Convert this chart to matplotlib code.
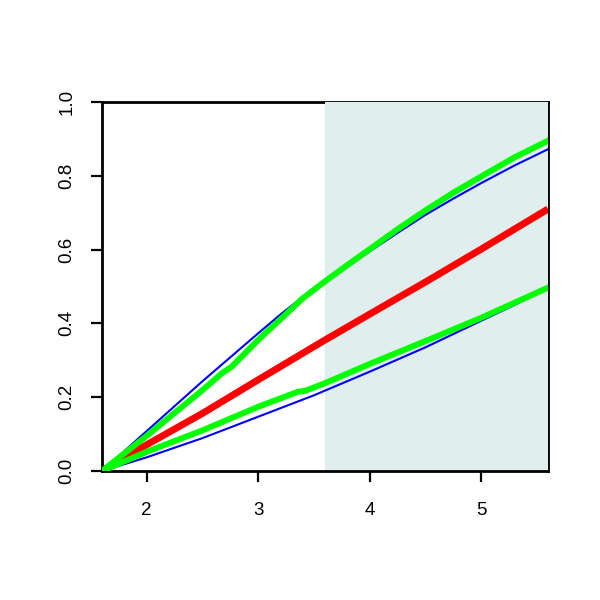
import numpy as np
import matplotlib.pyplot as plt

plt.rcParams['font.family'] = ['Liberation Sans', 'DejaVu Sans']

# blue band (smooth bounds)
x_bup = [1.6, 2.0, 2.5, 3.0, 3.2, 3.4, 3.6, 3.8, 4.0, 4.25, 4.5, 4.75, 5.0, 5.3, 5.6]
upper_blue = [0, 0.108, 0.243, 0.373, 0.424, 0.472, 0.512, 0.553, 0.595, 0.645,
              0.694, 0.738, 0.780, 0.828, 0.872]
x_blo = [1.6, 2.0, 2.5, 3.0, 3.25, 3.5, 3.75, 4.0, 4.25, 4.5, 4.75, 5.0, 5.3, 5.6]
lower_blue = [0, 0.037, 0.089, 0.147, 0.176, 0.205, 0.237, 0.269, 0.302, 0.335,
              0.371, 0.407, 0.450, 0.495]

# red centre line
x_red = [1.6, 2.0, 2.5, 3.0, 3.6, 4.0, 4.5, 5.0, 5.6]
y_red = [0, 0.071, 0.156, 0.247, 0.355, 0.425, 0.512, 0.601, 0.710]

# green bounds
x_gup = [1.6, 2.0, 2.5, 2.68, 2.76, 3.0, 3.2, 3.4, 3.6, 3.8, 4.0, 4.25, 4.5, 4.75,
         5.0, 5.3, 5.6]
y_gup = [0, 0.095, 0.219, 0.266, 0.282, 0.355, 0.411, 0.468, 0.514, 0.558, 0.601,
         0.655, 0.706, 0.754, 0.798, 0.850, 0.895]
x_glo = [1.6, 2.0, 2.5, 3.0, 3.36, 3.42, 3.6, 4.0, 4.5, 5.0, 5.6]
y_glo = [0, 0.052, 0.110, 0.174, 0.215, 0.217, 0.238, 0.290, 0.352, 0.415, 0.497]

shade_from, shade_to = 3.6, 5.6
xticks = [2, 3, 4, 5]
yticks = [0.0, 0.2, 0.4, 0.6, 0.8, 1.0]

fig = plt.figure(figsize=(6, 6), dpi=100)
ax = fig.add_axes([0.17, 0.215, 0.7433, 0.615])

ax.axvspan(shade_from, shade_to, color='#E0EEEE', zorder=2.6, lw=0)

ax.plot(x_bup, upper_blue, color='#0000FF', lw=1.5, zorder=3)
ax.plot(x_blo, lower_blue, color='#0000FF', lw=1.5, zorder=3)
ax.plot(x_red, y_red, color='#FF0000', lw=5, zorder=3.1, solid_capstyle='butt')
ax.plot(x_gup, y_gup, color='#00FF00', lw=4.3, zorder=3.2, solid_capstyle='projecting')
ax.plot(x_glo, y_glo, color='#00FF00', lw=4.3, zorder=3.2, solid_capstyle='projecting')

ax.set_xlim(1.6, 5.6)
ax.set_ylim(0, 1)
ax.set_xticks(xticks)
ax.set_xticklabels([str(t) for t in xticks])
ax.set_yticks(yticks)
ax.set_yticklabels(['%.1f' % t for t in yticks], rotation=90, va='center')

for s in ax.spines.values():
    s.set_linewidth(2)
ax.spines['left'].set_zorder(2.7)
ax.spines['bottom'].set_zorder(2.7)

ax.tick_params(axis='both', direction='out', length=8, width=1.6,
               labelsize=13.5, color='black')
ax.tick_params(axis='x', pad=14)
ax.tick_params(axis='y', pad=11)

fig.savefig('out.png', dpi=100)
